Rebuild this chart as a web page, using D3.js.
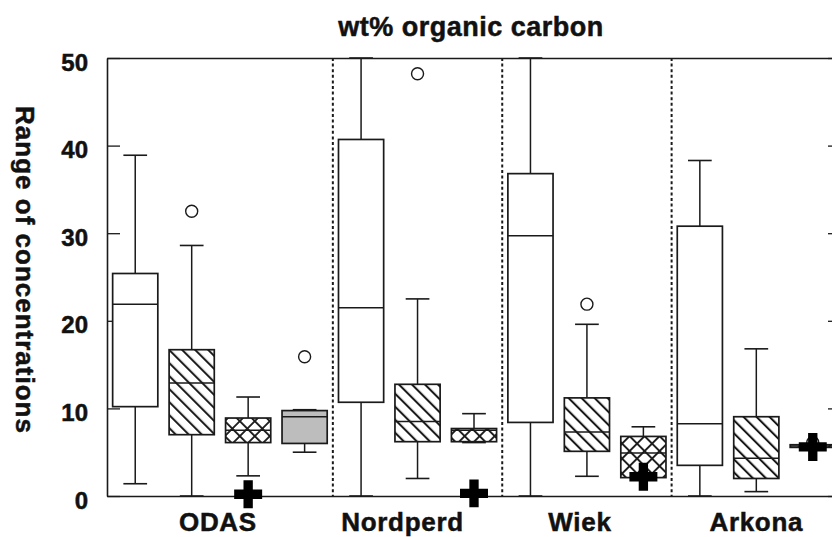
<!DOCTYPE html>
<html>
<head>
<meta charset="utf-8">
<script src="https://cdnjs.cloudflare.com/ajax/libs/d3/7.8.5/d3.min.js"></script>
<style>
  body { margin: 0; background: #fff; }
  text { font-family: "Liberation Sans", Arial, Helvetica, sans-serif; font-weight: bold; fill: #111; stroke: #111; stroke-width: 0.5px; }
</style>
</head>
<body>
<script>
(function() {

  // one entry per box, left to right
  let sites = ["ODAS", "Nordperd", "Wiek", "Arkona"];
  let boxSite = [0, 0, 0, 0, 1, 1, 1, 2, 2, 2, 3, 3, 3];
  let boxFill = ["open", "hatch", "cross", "grey", "open", "hatch", "cross",
                 "open", "hatch", "cross", "open", "hatch", "cross"];
  let whiskerLow  = [1.4, 0.0, 2.3, 5.0, 0.0, 2.0, 6.1, 0.0, 2.25, 2.0, 0.0, 0.5, 5.6];
  let quart1      = [10.2, 7.0, 6.1, 6.0, 10.7, 6.2, 6.2, 8.4, 5.1, 2.1, 3.5, 2.0, 5.55];
  let medians     = [21.9, 12.9, 7.5, 9.05, 21.5, 8.5, 7.5, 29.7, 7.3, 4.9, 8.25, 4.3, 5.7];
  let quart3      = [25.4, 16.7, 8.9, 9.75, 40.7, 12.75, 7.7, 36.8, 11.2, 6.8, 30.8, 9.05, 5.85];
  let whiskerHigh = [38.9, 28.6, 11.3, 9.85, 50.0, 22.5, 9.4, 50.0, 19.6, 7.9, 38.3, 16.8, 5.85];
  let outlierVal  = [null, 32.5, null, 15.9, null, 48.2, null, null, 21.9, null, null, null, 6.1];
  let plusVal     = [null, null, 0.2, null, null, null, 0.3, null, null, 2.2, null, null, 5.6];
  let yTicks = [0, 10, 20, 30, 40, 50];
  let title = "wt% organic carbon";
  let yTitle = "Range of concentrations";

  let ink = "#1a1a1a";

  window.onload = function() {
    let svg = d3.select("body").append("svg")
      .attr("width", 832)
      .attr("height", 537);

    let x = d3.scaleLinear().domain([-0.5, boxSite.length - 0.5]).range([107, 841]);
    let y = d3.scaleLinear().domain([0, 50]).range([496, 58]);

    makePatterns(svg);
    drawFrame(svg, x, y);
    drawBoxes(svg, x, y);
    drawLabels(svg, x, y);
  }

  function makePatterns(svg) {
    let defs = svg.append("defs");

    // single diagonal hatch, upper-left to lower-right
    let hatch = defs.append("pattern")
      .attr("id", "hatch")
      .attr("patternUnits", "userSpaceOnUse")
      .attr("width", 9.2).attr("height", 10)
      .attr("patternTransform", "rotate(-45)");
    hatch.append("rect").attr("width", 9.2).attr("height", 10).attr("fill", "#fff");
    hatch.append("line")
      .attr("x1", 1).attr("x2", 1).attr("y1", 0).attr("y2", 10)
      .attr("stroke", ink).attr("stroke-width", 2.1);

    // cross hatch
    let cross = defs.append("pattern")
      .attr("id", "cross")
      .attr("patternUnits", "userSpaceOnUse")
      .attr("width", 10.6).attr("height", 10.6)
      .attr("patternTransform", "rotate(45)");
    cross.append("rect").attr("width", 10.6).attr("height", 10.6).attr("fill", "#fff");
    cross.append("line")
      .attr("x1", 1).attr("x2", 1).attr("y1", 0).attr("y2", 10.6)
      .attr("stroke", ink).attr("stroke-width", 1.9);
    cross.append("line")
      .attr("x1", 0).attr("x2", 10.6).attr("y1", 1).attr("y2", 1)
      .attr("stroke", ink).attr("stroke-width", 1.9);
  }

  function drawFrame(svg, x, y) {
    let left = svg.append("g")
      .attr("transform", "translate(" + x.range()[0] + ",0)")
      .call(d3.axisLeft(y).tickValues(yTicks).tickSizeInner(-13).tickSizeOuter(0).tickPadding(19));
    left.selectAll("text")
      .attr("dy", "0.5em")
      .style("font-size", "24px");

    svg.append("g")
      .attr("transform", "translate(" + x.range()[1] + ",0)")
      .call(d3.axisRight(y).tickValues(yTicks).tickSizeInner(-13).tickSizeOuter(0).tickFormat(""));

    svg.append("g")
      .attr("transform", "translate(0," + y(50) + ")")
      .call(d3.axisTop(x).tickValues([]).tickSizeOuter(0));
    svg.append("g")
      .attr("transform", "translate(0," + y(0) + ")")
      .call(d3.axisBottom(x).tickValues([]).tickSizeOuter(0));

    svg.selectAll(".domain").attr("stroke", ink).attr("stroke-width", 1.6);
    svg.selectAll(".tick line").attr("stroke", ink).attr("stroke-width", 1.3);

    // dotted separators between sites
    let seps = d3.range(1, boxSite.length)
      .filter((i) => boxSite[i] != boxSite[i - 1])
      .map((i) => i - 0.5);
    svg.selectAll(".sep")
      .data(seps)
      .enter()
      .append("line")
        .attr("class", "sep")
        .attr("x1", (d) => x(d))
        .attr("x2", (d) => x(d))
        .attr("y1", y(50))
        .attr("y2", y(0))
        .attr("stroke", ink)
        .attr("stroke-width", 2)
        .attr("stroke-dasharray", "3,2.6");
  }

  function drawBoxes(svg, x, y) {
    let halfBox = 0.4;
    let halfCap = 0.21;
    let fills = { open: "#fff", hatch: "url(#hatch)", cross: "url(#cross)", grey: "#bdbdbd" };

    let boxes = svg.selectAll(".box")
      .data(d3.range(boxSite.length))
      .enter()
      .append("g")
        .attr("class", "box");

    boxes.append("line")
      .attr("x1", (i) => x(i)).attr("x2", (i) => x(i))
      .attr("y1", (i) => y(whiskerLow[i]))
      .attr("y2", (i) => y(whiskerHigh[i]))
      .attr("stroke", ink).attr("stroke-width", 1.5);

    boxes.append("line")
      .attr("x1", (i) => x(i - halfCap)).attr("x2", (i) => x(i + halfCap))
      .attr("y1", (i) => y(whiskerLow[i])).attr("y2", (i) => y(whiskerLow[i]))
      .attr("stroke", ink).attr("stroke-width", 1.6);

    boxes.append("line")
      .attr("x1", (i) => x(i - halfCap)).attr("x2", (i) => x(i + halfCap))
      .attr("y1", (i) => y(whiskerHigh[i])).attr("y2", (i) => y(whiskerHigh[i]))
      .attr("stroke", ink).attr("stroke-width", 1.6);

    boxes.append("rect")
      .attr("x", (i) => x(i - halfBox))
      .attr("width", (i) => x(i + halfBox) - x(i - halfBox))
      .attr("y", (i) => y(quart3[i]))
      .attr("height", (i) => y(quart1[i]) - y(quart3[i]))
      .attr("fill", (i) => fills[boxFill[i]])
      .attr("stroke", ink).attr("stroke-width", 1.7);

    boxes.append("line")
      .attr("x1", (i) => x(i - halfBox)).attr("x2", (i) => x(i + halfBox))
      .attr("y1", (i) => y(medians[i])).attr("y2", (i) => y(medians[i]))
      .attr("stroke", ink).attr("stroke-width", 1.5);

    let outs = d3.range(boxSite.length).filter((i) => outlierVal[i] != null);
    svg.selectAll(".outlier")
      .data(outs)
      .enter()
      .append("circle")
        .attr("class", "outlier")
        .attr("cx", (i) => x(i))
        .attr("cy", (i) => y(outlierVal[i]))
        .attr("r", 6)
        .attr("fill", "none")
        .attr("stroke", ink)
        .attr("stroke-width", 1.4);

    let plus = d3.symbol().type(d3.symbolCross).size(435);
    let pluses = d3.range(boxSite.length).filter((i) => plusVal[i] != null);
    svg.selectAll(".plus")
      .data(pluses)
      .enter()
      .append("path")
        .attr("class", "plus")
        .attr("d", plus)
        .attr("transform", (i) => "translate(" + x(i) + "," + y(plusVal[i]) + ")")
        .attr("fill", "#000");
  }

  function drawLabels(svg, x, y) {
    svg.append("text")
      .attr("x", 471)
      .attr("y", 36)
      .attr("text-anchor", "middle")
      .style("font-size", "27px")
      .style("letter-spacing", "0.5px")
      .text(title);

    svg.append("text")
      .attr("transform", "translate(16,270)rotate(90)")
      .attr("text-anchor", "middle")
      .style("font-size", "26px")
      .style("letter-spacing", "1px")
      .text(yTitle);

    // small nudges so the names sit where the original put them
    let nudge = [-2, -15, -7, 0];
    svg.selectAll(".site")
      .data(sites)
      .enter()
      .append("text")
        .attr("class", "site")
        .attr("x", (d, k) => {
          let slots = d3.range(boxSite.length).filter((i) => boxSite[i] == k);
          return x(d3.mean(slots)) + nudge[k];
        })
        .attr("y", 531)
        .attr("text-anchor", "middle")
        .style("font-size", "26px")
        .style("letter-spacing", "0.7px")
        .text((d) => d);
  }
})();
</script>
</body>
</html>
